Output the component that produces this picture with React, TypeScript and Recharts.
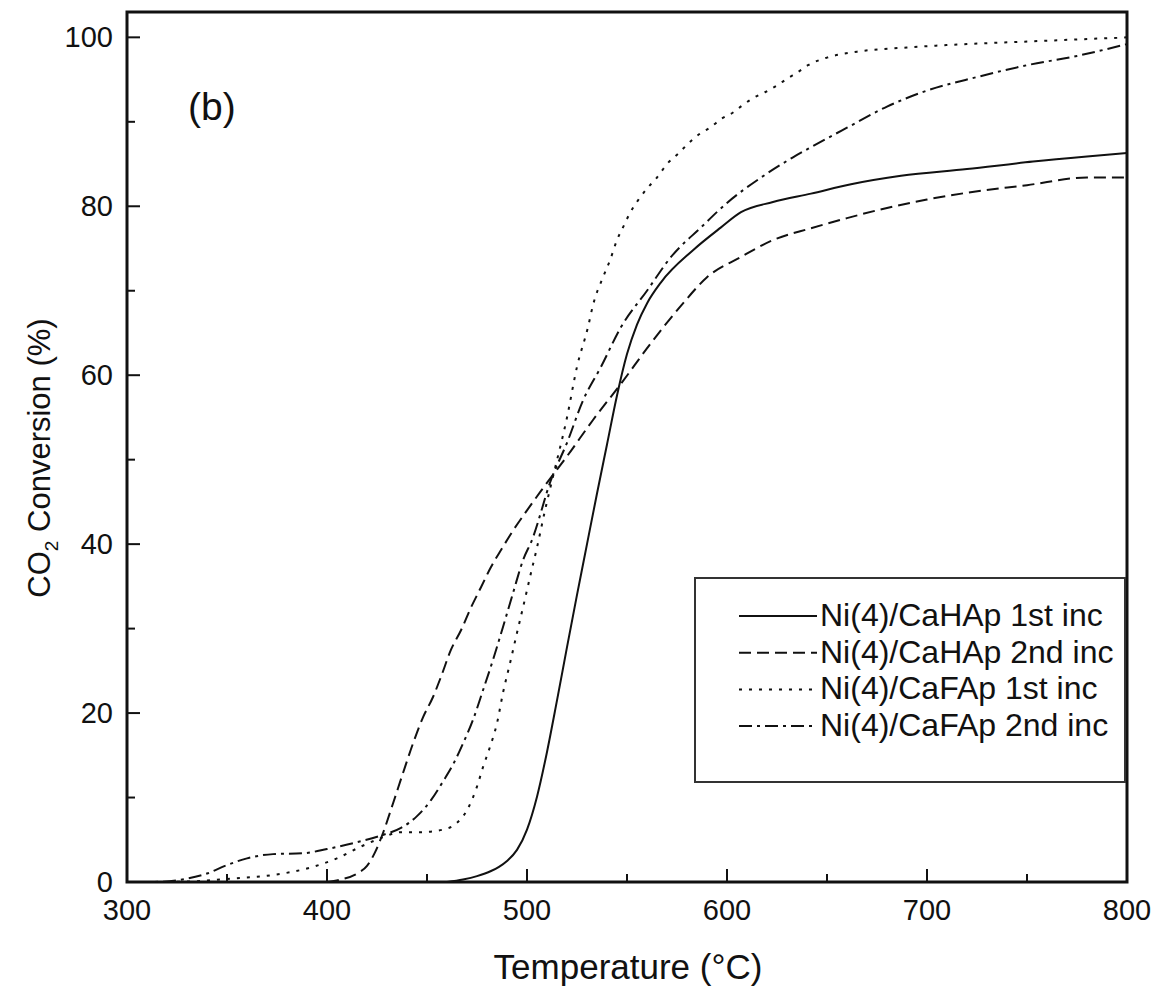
import { LineChart, Line, XAxis, YAxis, Legend, ReferenceArea } from 'recharts'

const hap1X = [460, 468, 475, 482, 486, 490, 495, 500, 505, 510, 515, 520, 525, 530, 535, 540, 545, 550, 555, 560, 567, 583, 597, 607, 623, 642, 662, 687, 720, 753, 780, 800]
const hap1Y = [0, 0.3, 0.7, 1.3, 1.8, 2.5, 3.8, 6.2, 10.1, 15.4, 21.5, 27.8, 34, 40, 46, 51.8, 57.6, 62.5, 66, 68.5, 71, 74.8, 77.5, 79.3, 80.5, 81.5, 82.6, 83.6, 84.4, 85.3, 85.9, 86.3]

const hap2X = [400, 407, 415, 420, 424, 428, 433, 438, 443, 448, 453, 457, 462, 467, 472, 477, 482, 487, 493, 500, 507, 520, 533, 547, 562, 578, 590, 607, 623, 642, 660, 680, 700, 720, 750, 780, 800]
const hap2Y = [0, 0.3, 1, 1.9, 3.5, 5.8, 9.3, 12.9, 16.4, 19.5, 21.9, 24.3, 27.5, 29.8, 32.5, 34.9, 37.3, 39.3, 41.6, 44, 46.3, 50.4, 54.7, 59, 63.8, 68.5, 71.6, 74, 76, 77.4, 78.6, 79.8, 80.8, 81.6, 82.5, 83.4, 83.4]

const fap1X = [320, 335, 352, 372, 390, 405, 417, 427, 437, 447, 458, 465, 470, 475, 478, 481.5, 485, 488, 491.5, 495, 498, 501.5, 505, 509, 513, 520, 525, 530.5, 533, 538, 541.5, 545, 548, 551.5, 555.5, 560, 565, 570, 575.5, 580.5, 586.5, 591.5, 597.5, 603, 608, 613, 619, 625, 630, 635.5, 640.5, 650, 665, 690, 720, 760, 800]
const fap1Y = [0, 0.1, 0.4, 0.8, 1.6, 2.8, 4.2, 5.2, 5.9, 5.9, 6.2, 7, 8.5, 11.3, 13.6, 16, 18.8, 22.4, 25.9, 29.5, 32.5, 36.1, 39.6, 44, 48, 55, 61, 65.7, 68.3, 71.6, 73.6, 76, 77.5, 79.2, 80.7, 82.1, 83.4, 85, 86.2, 87.4, 88.6, 89.3, 90.4, 91.1, 92, 92.8, 93.5, 94.3, 95.1, 95.9, 96.7, 97.6, 98.3, 98.8, 99.2, 99.6, 100]

const fap2X = [305, 312, 330, 340, 350, 360, 373, 388, 400, 413, 427, 437, 445, 452, 458, 463, 468, 473, 478, 483, 488, 493, 498, 502.5, 512, 520, 528, 537, 547, 560, 572, 587, 600, 617, 633, 642, 660, 680, 700, 725, 750, 775, 800]
const fap2Y = [0, 0, 0.4, 1, 2, 2.8, 3.3, 3.4, 3.9, 4.6, 5.5, 6.4, 7.8, 9.7, 11.9, 13.9, 16.4, 19.2, 22.7, 26.3, 30.2, 34.2, 38.1, 40.5, 47.6, 52, 57, 61, 65.7, 70, 74, 77.5, 80.4, 83.4, 85.8, 87, 89.3, 91.8, 93.7, 95.3, 96.7, 97.8, 99.2]

const seriesNames = ['Ni(4)/CaHAp 1st inc', 'Ni(4)/CaHAp 2nd inc', 'Ni(4)/CaFAp 1st inc', 'Ni(4)/CaFAp 2nd inc']
const dashes = ['', '12 6', '3 7', '13 5 3 5']

const xTicks = [300, 350, 400, 450, 500, 550, 600, 650, 700, 750, 800]
const yTicks = [0, 10, 20, 30, 40, 50, 60, 70, 80, 90, 100]

const FONT = '"Liberation Sans", Arial, sans-serif'
const INK = '#111'

const toRows = (xs: number[], ys: number[]) => xs.map((x, i) => ({ x, y: ys[i] }))
const datasets = [toRows(hap1X, hap1Y), toRows(hap2X, hap2Y), toRows(fap1X, fap1Y), toRows(fap2X, fap2Y)]

function XTick({ x, y, payload }: any) {
  const major = payload.value % 100 === 0
  return (
    <g>
      <line x1={x} x2={x} y1={y} y2={y - (major ? 13 : 8)} stroke={INK} strokeWidth={2} />
      {major && (
        <text x={x} y={y + 38} textAnchor="middle" fontSize={29} fontFamily={FONT} fill={INK}>
          {payload.value}
        </text>
      )}
    </g>
  )
}

function YTick({ x, y, payload }: any) {
  const major = payload.value % 20 === 0
  return (
    <g>
      <line x1={x} x2={x + (major ? 13 : 8)} y1={y} y2={y} stroke={INK} strokeWidth={2} />
      {major && (
        <text x={x - 14} y={y + 10} textAnchor="end" fontSize={29} fontFamily={FONT} fill={INK}>
          {payload.value}
        </text>
      )}
    </g>
  )
}

function LegendBox() {
  return (
    <svg width={432} height={206} style={{ display: 'block' }}>
      <rect x={1} y={1} width={430} height={204} fill="#fff" stroke="#333" strokeWidth={2} />
      {seriesNames.map((name, i) => {
        const base = 49 + i * 36.7
        return (
          <g key={name}>
            <line x1={45} x2={123} y1={base - 10} y2={base - 10} stroke={INK} strokeWidth={2} strokeDasharray={dashes[i] || undefined} />
            <text x={126} y={base} fontSize={32} fontFamily={FONT} fill={INK}>{name}</text>
          </g>
        )
      })}
    </svg>
  )
}

export default function App() {
  return (
    <div style={{ position: 'absolute', left: 0, top: 0, width: 1165, height: 995, background: '#fff' }}>
      <LineChart width={1165} height={995} margin={{ top: 12, right: 38, bottom: 0, left: 0 }}>
        <XAxis
          type="number"
          dataKey="x"
          domain={[300, 800]}
          ticks={xTicks}
          interval={0}
          height={113}
          tickSize={0}
          tickMargin={0}
          axisLine={false}
          tick={<XTick />}
          allowDuplicatedCategory={false}
        />
        <YAxis
          type="number"
          dataKey="y"
          domain={[0, 103]}
          ticks={yTicks}
          interval={0}
          width={127}
          tickSize={0}
          tickMargin={0}
          axisLine={false}
          tick={<YTick />}
        />
        <ReferenceArea x1={300} x2={800} y1={0} y2={103} fill="none" stroke={INK} strokeWidth={3} ifOverflow="visible" />
        {datasets.map((d, i) => (
          <Line
            key={seriesNames[i]}
            data={d}
            dataKey="y"
            name={seriesNames[i]}
            type="monotone"
            stroke={INK}
            strokeWidth={2}
            strokeDasharray={dashes[i] || undefined}
            dot={false}
            activeDot={false}
            isAnimationActive={false}
          />
        ))}
        <Legend
          layout="horizontal"
          verticalAlign="middle"
          align="center"
          content={<LegendBox />}
          wrapperStyle={{ left: 694, top: 577, width: 432, height: 206 }}
        />
        <text x={188} y={120} fontSize={39} fontFamily={FONT} fill={INK}>(b)</text>
        <text x={628} y={979} textAnchor="middle" fontSize={35} fontFamily={FONT} fill={INK}>Temperature (°C)</text>
        <text x={50} y={458} textAnchor="middle" fontSize={31} fontFamily={FONT} fill={INK} transform="rotate(-90 50 458)">
          CO<tspan fontSize={19} dy={8}>2</tspan><tspan dy={-8}> Conversion (%)</tspan>
        </text>
      </LineChart>
    </div>
  )
}
